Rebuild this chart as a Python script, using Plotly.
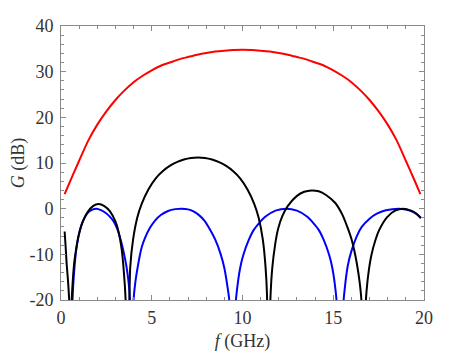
import plotly.graph_objects as go

# Frequency (GHz) and gain (dB)
f_red = [0.2, 0.5, 1.0, 1.5, 2.0, 2.5, 3.0, 3.5, 4.0, 4.5, 5.0, 5.5, 6.0, 6.5, 7.0, 7.5, 8.0,
         8.5, 9.0, 9.5, 10.0, 10.5, 11.0, 11.5, 12.0, 12.5, 13.0, 13.5, 14.0, 14.5, 15.0,
         15.5, 16.0, 16.5, 17.0, 17.5, 18.0, 18.5, 19.0, 19.5, 19.8]
g_red = [3.2, 6.0, 10.5, 14.9, 18.4, 21.3, 23.8, 25.9, 27.7, 29.1, 30.3, 31.3, 32.0, 32.7,
         33.2, 33.7, 34.1, 34.4, 34.6, 34.75, 34.8, 34.75, 34.6, 34.4, 34.1, 33.7, 33.2,
         32.7, 32.0, 31.3, 30.3, 29.1, 27.7, 25.9, 23.8, 21.3, 18.4, 14.9, 10.5, 6.0, 3.2]

f_blue = [0.55, 0.6, 0.67, 0.75, 0.83, 0.95, 1.1, 1.23, 1.45, 1.7, 1.95, 2.2, 2.45, 2.7, 2.9,
          3.1, 3.3, 3.45, 3.6, 3.72, 3.8, 3.9,
          3.98, 4.1, 4.26, 4.45, 4.63, 4.9, 5.18, 5.5, 5.9, 6.3, 6.65, 7.0, 7.3, 7.57, 7.9,
          8.2, 8.5, 8.8, 9.0, 9.15, 9.27, 9.45,
          9.56, 9.69, 9.86, 10.04, 10.34, 10.63, 11.23, 11.82, 12.41, 13.0, 13.59, 14.19,
          14.48, 14.78, 14.96, 15.13, 15.25, 15.37,
          15.5, 15.62, 15.8, 16.0, 16.3, 16.57, 17.0, 17.4, 17.9, 18.6, 19.0, 19.32, 19.6, 19.83]
g_blue = [-45, -24, -17, -12.5, -9.3, -6.3, -3.9, -2.5, -1.0, -0.25, 0, -0.3, -0.9, -1.8, -2.8,
          -4.4, -7.0, -9.5, -12.5, -16, -20, -45,
          -21, -16, -12, -8.4, -6.4, -4.2, -2.6, -1.4, -0.5, -0.1, 0, -0.15, -0.6, -1.3, -2.6,
          -4.5, -6.8, -10, -13, -16.5, -20, -45,
          -24, -18, -13.2, -10.2, -6.9, -4.6, -1.84, -0.44, 0, -0.44, -1.84, -4.6,
          -6.9, -10.2, -13.2, -18, -24, -45,
          -24, -18, -12.5, -9.3, -6.0, -4.0, -2.2, -1.1, -0.35, 0, -0.2, -0.6, -1.2, -2.0]

f_black = [0.2, 0.25, 0.31, 0.38, 0.45, 0.5,
           0.56, 0.63, 0.72, 0.82, 0.97, 1.13, 1.45, 1.76, 2.07, 2.39, 2.7, 3.02, 3.18, 3.34,
           3.43, 3.52, 3.59, 3.66,
           3.815, 3.97, 4.2, 4.44, 4.83, 5.21, 5.6, 5.99, 6.38, 6.77, 7.16, 7.55, 7.93, 8.32,
           8.71, 9.1, 9.49, 9.88, 10.26, 10.65, 10.89, 11.12, 11.27, 11.35, 11.43,
           11.535, 11.64, 11.8, 11.97, 12.2, 12.5, 13.0, 13.4, 13.8, 14.2, 14.6, 15.1, 15.5,
           15.83, 16.0, 16.15, 16.3, 16.45, 16.55, 16.66,
           16.75, 16.835, 16.97, 17.1, 17.32, 17.54, 17.97, 18.41, 18.85, 19.29, 19.55, 19.83]
g_black = [-5.0, -8.0, -12.0, -15.5, -20, -45,
           -23, -17, -12.2, -9.2, -5.9, -3.6, -0.84, 0.56, 1.0, 0.56, -0.6, -3.0, -5.2, -8.8,
           -12.2, -17, -23, -45,
           -12.8, -6.8, -2.0, 1.0, 4.3, 6.6, 8.2, 9.36, 10.2, 10.76, 11.09, 11.2, 11.09, 10.76,
           10.2, 9.36, 8.2, 6.6, 4.3, 1.0, -2.0, -6.8, -12.8, -18.9, -45,
           -20, -13, -7.8, -4.3, -1.6, 0.6, 2.8, 3.7, 4.0, 3.8, 3.0, 1.3, -1.3,
           -4.6, -6.6, -9.0, -12, -16, -20, -45,
           -24, -18, -13.2, -10.2, -6.9, -4.6, -1.84, -0.44, 0, -0.44, -1.0, -2.1]

x_ticks = [0, 5, 10, 15, 20]
y_ticks = [-20, -10, 0, 10, 20, 30, 40]
y_labels = ["-20", "-10", "0", "10", "20", "30", "40"]

FONT = "Liberation Serif, Times New Roman, serif"
AXIS_GRAY = "#8a8a8a"
TEXT = "#333333"

fig = go.Figure()
for xs, ys, color in [(f_red, g_red, "#ff0000"), (f_blue, g_blue, "#0000ff"), (f_black, g_black, "#000000")]:
    fig.add_trace(go.Scatter(
        x=xs, y=ys, mode="lines",
        line=dict(color=color, width=2, shape="spline", smoothing=0.6),
        showlegend=False,
    ))

axis_common = dict(
    showgrid=False,
    zeroline=False,
    showline=True,
    linecolor=AXIS_GRAY,
    linewidth=1,
    mirror="allticks",
    ticks="inside",
    ticklen=5,
    tickcolor=AXIS_GRAY,
    tickfont=dict(family=FONT, size=18, color=TEXT),
    automargin=False,
)

fig.update_xaxes(
    range=[0, 20], tickvals=x_ticks,
    minor=dict(dtick=1, ticks="inside", ticklen=3, tickcolor=AXIS_GRAY),
    ticklabelstandoff=1,
    title=dict(text="<i>f</i> (GHz)", font=dict(family=FONT, size=18, color=TEXT), standoff=8),
    **axis_common,
)
fig.update_yaxes(
    range=[-20, 40], tickvals=y_ticks, ticktext=y_labels,
    minor=dict(dtick=2, ticks="inside", ticklen=3, tickcolor=AXIS_GRAY),
    ticklabelstandoff=3,
    title=dict(text="<i>G</i> (dB)", font=dict(family=FONT, size=18, color=TEXT), standoff=1),
    **axis_common,
)

# the page body adds an 8 px margin, so the figure is a little smaller than the window
fig.update_layout(
    width=461,
    height=344,
    margin=dict(l=53, r=45, t=18, b=52, pad=0),
    plot_bgcolor="white",
    paper_bgcolor="white",
)

fig.write_html("out.html")
